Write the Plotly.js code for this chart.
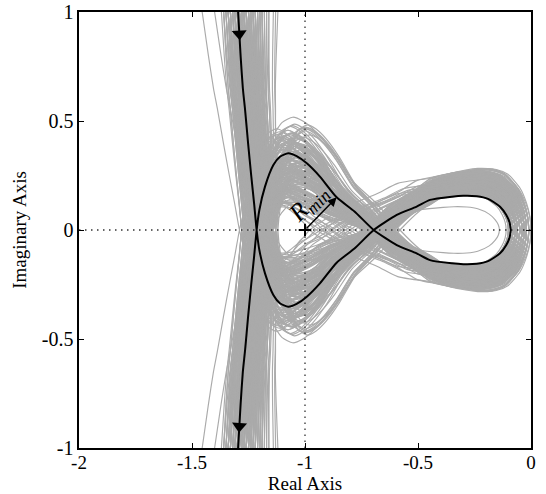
<!DOCTYPE html>
<html>
<head>
<meta charset="utf-8">
<script src="https://cdn.plot.ly/plotly-3.0.1.min.js"></script>
<style>
html,body{margin:0;padding:0;background:#fff;}
#chart{width:546px;height:494px;}
</style>
</head>
<body>
<div id="chart"></div>
<script>
// ---- Nominal Nyquist curve, upper half-path (top -> crossing -> left lobe -> node -> right lobe tip) ----
const nomVx = [-1.296, -1.285, -1.275, -1.265, -1.252, -1.238, -1.225, -1.214];
const nomVy = [ 1.000,  0.800,  0.650,  0.550,  0.400,  0.250,  0.120,  0.000];
const nomLx = [-1.214, -1.202, -1.177, -1.140, -1.111, -1.074, -1.037, -0.992, -0.934, -0.860, -0.781, -0.696];
const nomLy = [ 0.000, -0.092, -0.199, -0.298, -0.336, -0.352, -0.339, -0.306, -0.245, -0.150, -0.085,  0.000];
const nomRx = [-0.696, -0.594, -0.506, -0.447, -0.350, -0.300, -0.240, -0.190, -0.137, -0.110, -0.095, -0.090];
const nomRy = [ 0.000,  0.069,  0.107,  0.138,  0.153,  0.157,  0.155,  0.143,  0.107,  0.070,  0.035,  0.000];

// ---- Perturbed (Monte Carlo) curves: per-curve characteristic values ----
// real-axis crossing of the steep branch
const grayXc = [-1.21,-1.25,-1.17,-1.23,-1.14,-1.27,-1.19,-1.22,-1.16,-1.24,
                -1.20,-1.13,-1.26,-1.18,-1.22,-1.15,-1.28,-1.21,-1.17,-1.24,
                -1.19,-1.23,-1.12,-1.25,-1.18,-1.20,-1.16,-1.26,-1.22,-1.14,
                -1.21,-1.27,-1.19,-1.23,-1.17,-1.24,-1.15,-1.20,-1.25,-1.18,
                -1.22,-1.13,-1.26,-1.19,-1.21,-1.16,-1.24,-1.20,-1.28,-1.17,
                -1.23,-1.18,-1.25,-1.14,-1.21,-1.19,-1.27,-1.16,-1.22,-1.20,
                -1.24,-1.15,-1.18,-1.26,-1.21,-1.17,-1.23,-1.19,-1.13,-1.25,
                -1.20,-1.22,-1.16,-1.24,-1.18,-1.29,-1.21,-1.15,-1.23,-1.19,
                -1.18,-1.23,-1.15,-1.26,-1.20,-1.17,-1.24,-1.21,-1.14,-1.27,
                -1.19,-1.22,-1.16,-1.25,-1.20,-1.13,-1.23,-1.18,-1.26,-1.21,
                -1.15,-1.24,-1.19,-1.22,-1.17,-1.28,-1.20,-1.14,-1.25,-1.18,
                -1.21,-1.16,-1.23,-1.19,-1.27,-1.15,-1.22,-1.20,-1.24,-1.17,
                -1.20,-1.17,-1.23,-1.15,-1.21,-1.18,-1.25,-1.16,-1.22,-1.19,
                -1.14,-1.24,-1.20,-1.17,-1.26,-1.13,-1.21,-1.18,-1.23,-1.16,
                -1.19,-1.22,-1.15,-1.25,-1.20,-1.17,-1.24,-1.18,-1.21,-1.14,
                -1.23,-1.19,-1.16,-1.22,-1.20,-1.26,-1.17,-1.21,-1.15,-1.24];
// real part where the steep branch leaves the frame (|Im| = 1)
const grayXt = [-1.29,-1.31,-1.26,-1.28,-1.21,-1.35,-1.23,-1.31,-1.22,-1.31,
                -1.26,-1.17,-1.36,-1.25,-1.28,-1.20,-1.36,-1.30,-1.24,-1.32,
                -1.27,-1.29,-1.13,-1.34,-1.26,-1.27,-1.19,-1.33,-1.30,-1.16,
                -1.28,-1.33,-1.29,-1.30,-1.25,-1.33,-1.22,-1.25,-1.32,-1.27,
                -1.29,-1.14,-1.34,-1.24,-1.31,-1.23,-1.30,-1.28,-1.37,-1.21,
                -1.32,-1.24,-1.33,-1.18,-1.27,-1.26,-1.34,-1.24,-1.27,-1.29,
                -1.29,-1.17,-1.28,-1.32,-1.26,-1.27,-1.31,-1.22,-1.12,-1.35,
                -1.30,-1.26,-1.20,-1.34,-1.23,-1.455,-1.24,-1.19,-1.40,-1.28,
                -1.26,-1.30,-1.21,-1.35,-1.25,-1.26,-1.33,-1.27,-1.20,-1.33,
                -1.28,-1.27,-1.25,-1.30,-1.29,-1.19,-1.29,-1.22,-1.34,-1.29,
                -1.24,-1.28,-1.26,-1.32,-1.23,-1.36,-1.26,-1.23,-1.31,-1.25,
                -1.30,-1.21,-1.27,-1.29,-1.35,-1.19,-1.31,-1.24,-1.34,-1.22,
                -1.27,-1.25,-1.31,-1.20,-1.29,-1.24,-1.33,-1.22,-1.28,-1.27,
                -1.19,-1.31,-1.28,-1.23,-1.34,-1.16,-1.27,-1.26,-1.30,-1.23,
                -1.25,-1.30,-1.22,-1.31,-1.28,-1.22,-1.32,-1.25,-1.26,-1.18,
                -1.30,-1.28,-1.21,-1.27,-1.29,-1.33,-1.23,-1.30,-1.20,-1.31];
// left-lobe size relative to nominal
const graySL = [0.42,1.21,0.78,1.05,0.63,1.32,0.91,0.55,1.12,0.74,
                1.27,0.86,0.48,1.01,1.18,0.67,0.95,1.35,0.59,0.82,
                1.09,0.71,1.24,0.51,0.98,1.15,0.88,0.65,1.30,0.77,
                1.03,0.45,1.20,0.93,0.69,1.11,0.84,1.26,0.57,1.07,
                0.80,1.33,0.61,0.97,1.17,0.73,1.02,0.38,1.23,0.89,
                0.66,1.13,0.79,1.29,0.53,0.99,1.19,0.75,0.92,1.36,
                0.60,1.06,0.83,1.25,0.70,0.96,1.14,0.50,1.31,0.87,
                0.64,1.08,0.76,1.22,0.94,0.58,1.16,0.81,1.47,1.38,
                0.44,1.10,0.86,1.28,0.36,0.97,1.19,0.33,1.34,0.54,
                0.90,1.24,0.68,1.05,0.80,1.37,0.47,1.14,0.93,0.76,
                1.21,0.30,1.00,1.30,0.42,0.88,1.16,0.40,1.08,0.83,
                1.26,0.70,0.95,1.12,0.52,1.33,0.78,1.03,0.35,1.18,
                0.46,0.62,0.39,0.71,0.55,0.84,0.49,0.66,0.58,0.77,
                0.43,0.69,0.52,0.88,0.61,0.37,0.74,0.57,0.81,0.48,
                0.65,0.41,0.72,0.54,0.86,0.60,0.45,0.79,0.50,0.68,
                0.38,0.63,0.56,0.75,0.47,0.83,0.59,0.70,0.44,0.90];
// real-axis self-crossing (node) of the figure eight
const grayXn = [-0.68,-0.72,-0.64,-0.70,-0.62,-0.74,-0.66,-0.69,-0.63,-0.71,
                -0.67,-0.61,-0.73,-0.65,-0.70,-0.63,-0.75,-0.68,-0.64,-0.71,
                -0.66,-0.70,-0.60,-0.72,-0.65,-0.67,-0.63,-0.73,-0.69,-0.62,
                -0.68,-0.74,-0.66,-0.70,-0.64,-0.71,-0.62,-0.67,-0.72,-0.65,
                -0.69,-0.61,-0.73,-0.66,-0.68,-0.63,-0.71,-0.67,-0.75,-0.64,
                -0.70,-0.65,-0.72,-0.62,-0.68,-0.66,-0.74,-0.63,-0.69,-0.67,
                -0.71,-0.62,-0.65,-0.73,-0.68,-0.64,-0.70,-0.66,-0.61,-0.72,
                -0.67,-0.69,-0.63,-0.71,-0.65,-0.74,-0.68,-0.62,-0.58,-0.66,
                -0.67,-0.70,-0.64,-0.72,-0.68,-0.63,-0.71,-0.66,-0.62,-0.73,
                -0.69,-0.65,-0.64,-0.71,-0.67,-0.61,-0.70,-0.66,-0.74,-0.68,
                -0.63,-0.72,-0.65,-0.69,-0.64,-0.75,-0.67,-0.62,-0.71,-0.66,
                -0.68,-0.63,-0.70,-0.65,-0.73,-0.62,-0.69,-0.67,-0.71,-0.64,
                -0.95,-0.64,-0.86,-0.62,-0.68,-0.65,-0.80,-0.63,-0.69,-0.66,
                -0.92,-0.71,-0.67,-0.64,-0.73,-0.98,-0.68,-0.65,-0.70,-0.84,
                -0.66,-0.89,-0.62,-0.72,-0.67,-0.64,-0.78,-0.65,-0.68,-0.61,
                -0.93,-0.66,-0.63,-0.69,-0.82,-0.73,-0.64,-0.68,-0.88,-0.71];
// right-lobe height relative to nominal
const graySR = [1.35,1.62,1.12,1.48,1.05,1.74,1.28,1.55,1.18,1.42,
                1.66,1.09,1.51,1.22,1.38,1.78,1.15,1.45,1.31,1.59,
                1.02,1.69,1.25,1.40,1.56,1.11,1.47,1.72,1.20,1.34,
                1.63,1.07,1.52,1.29,1.44,1.76,1.16,1.39,1.58,1.24,
                1.68,1.13,1.49,1.32,1.60,1.04,1.43,1.71,1.26,1.54,
                1.19,1.65,1.37,1.10,1.50,1.80,1.23,1.46,1.30,1.57,
                1.08,1.67,1.36,1.21,1.53,1.75,1.14,1.41,1.61,0.68,
                1.27,1.70,1.17,1.45,1.33,1.64,1.06,1.50,1.25,1.58,
                1.44,1.70,1.22,1.56,1.11,1.77,1.33,1.49,1.26,1.63,
                1.16,1.52,1.39,1.68,1.07,1.58,1.29,1.46,1.73,1.19,
                1.61,1.36,1.54,1.13,1.66,1.41,1.24,1.79,1.31,1.50,
                1.09,1.59,1.35,1.71,1.21,1.47,1.64,1.28,1.55,1.42,
                1.20,1.46,1.08,1.33,1.57,1.15,1.40,1.26,1.52,1.03,
                1.37,1.61,1.18,1.44,1.29,1.55,1.12,1.49,1.23,1.65,
                1.06,1.31,1.42,1.17,1.58,1.27,1.48,1.01,1.35,1.53,
                1.14,1.39,1.60,1.21,1.45,1.10,1.34,1.51,1.25,1.43];
// rightmost real-axis crossing (tip of the right lobe)
const grayTip = [-0.06,-0.02,-0.08,-0.05,-0.10,-0.01,-0.07,-0.03,-0.09,-0.04,
                 -0.03,-0.08,-0.04,-0.06,-0.06,-0.01,-0.09,-0.04,-0.07,-0.02,
                 -0.11,-0.02,-0.07,-0.05,-0.04,-0.08,-0.05,-0.01,-0.08,-0.06,
                 -0.03,-0.09,-0.04,-0.06,-0.05, 0.00,-0.08,-0.05,-0.03,-0.07,
                 -0.02,-0.09,-0.04,-0.06,-0.03,-0.10,-0.05,-0.02,-0.07,-0.04,
                 -0.08,-0.02,-0.06,-0.09,-0.04,-0.01,-0.07,-0.05,-0.06,-0.03,
                 -0.09,-0.02,-0.06,-0.07,-0.04,-0.01,-0.08,-0.05,-0.03,-0.14,
                 -0.07,-0.02,-0.08,-0.05,-0.06,-0.02,-0.10,-0.04,-0.07,-0.03,
                 -0.05,-0.02,-0.07,-0.03,-0.09,-0.01,-0.06,-0.04,-0.07,-0.03,
                 -0.08,-0.04,-0.05,-0.02,-0.09,-0.03,-0.06,-0.05,-0.01,-0.08,
                 -0.03,-0.06,-0.04,-0.08,-0.02,-0.05,-0.07, 0.00,-0.06,-0.04,
                 -0.09,-0.03,-0.06,-0.01,-0.07,-0.04,-0.02,-0.07,-0.03,-0.05,
                 -0.08,-0.05,-0.09,-0.06,-0.03,-0.08,-0.05,-0.07,-0.04,-0.10,
                 -0.06,-0.03,-0.08,-0.05,-0.06,-0.03,-0.09,-0.04,-0.07,-0.02,
                 -0.09,-0.06,-0.05,-0.08,-0.03,-0.07,-0.04,-0.10,-0.06,-0.04,
                 -0.08,-0.05,-0.03,-0.07,-0.05,-0.09,-0.06,-0.04,-0.07,-0.05];

// ---- Reference point and ticks ----
const criticalX = -1, criticalY = 0;
const xTickVals = [-2, -1.5, -1, -0.5, 0];
const xTickText = ['-2', '-1.5', '-1', '-0.5', '0'];
const yTickVals = [-1, -0.5, 0, 0.5, 1];
const yTickText = ['-1', '-0.5', '0', '0.5', '1'];
const xRange = [-2, 0], yRange = [-1, 1];

// ---- geometry of the plot (for screen-space angles) ----
const W = 546, H = 494, M = {l:79, r:15, t:12, b:46};
const pxX = (W - M.l - M.r) / (xRange[1] - xRange[0]);
const pxY = (H - M.t - M.b) / (yRange[1] - yRange[0]);

function nominalHalf() {
  const X = nomVx.slice(), Y = nomVy.slice();
  for (let k = 1; k < nomLx.length; k++) { X.push(nomLx[k]); Y.push(nomLy[k]); }
  for (let k = 1; k < nomRx.length; k++) { X.push(nomRx[k]); Y.push(nomRy[k]); }
  return {X, Y};
}
function grayHalf(i) {
  const xc0 = nomVx[nomVx.length - 1], xt0 = nomVx[0], yt0 = nomVy[0];
  const xn0 = nomLx[nomLx.length - 1], tx0 = nomRx[nomRx.length - 1];
  const dc = grayXc[i] - xc0, dt = grayXt[i] - xt0;
  const X = [], Y = [];
  for (let k = 0; k < nomVx.length; k++) {
    const t = nomVy[k] / yt0;
    X.push(nomVx[k] + dc + (dt - dc) * t); Y.push(nomVy[k]);
  }
  const sx = (grayXn[i] - grayXc[i]) / (xn0 - xc0);
  for (let k = 1; k < nomLx.length; k++) {
    X.push(grayXc[i] + (nomLx[k] - xc0) * sx); Y.push(nomLy[k] * graySL[i]);
  }
  const rx = (grayTip[i] - grayXn[i]) / (tx0 - xn0);
  for (let k = 1; k < nomRx.length; k++) {
    X.push(grayXn[i] + (nomRx[k] - xn0) * rx); Y.push(nomRy[k] * graySR[i]);
  }
  return {X, Y};
}
// negative frequencies: complex conjugate, traversed in reverse
function fullCurve(h) {
  const X = h.X.slice(), Y = h.Y.slice();
  for (let k = h.X.length - 2; k >= 0; k--) { X.push(h.X[k]); Y.push(-h.Y[k]); }
  return {X, Y};
}

const gx = [], gy = [];
for (let i = 0; i < grayXc.length; i++) {
  const c = fullCurve(grayHalf(i));
  for (let k = 0; k < c.X.length; k++) { gx.push(c.X[k]); gy.push(c.Y[k]); }
  gx.push(null); gy.push(null);
}
const nom = fullCurve(nominalHalf());

// direction arrows on the nominal curve (middle of the first / last segment)
const n = nom.X.length;
const arrTop = {x: (nom.X[0] + nom.X[1]) / 2, y: (nom.Y[0] + nom.Y[1]) / 2,
  ang: -Math.atan2((nom.X[1] - nom.X[0]) * pxX, -(nom.Y[1] - nom.Y[0]) * pxY) * 180 / Math.PI};
const arrBot = {x: (nom.X[n-2] + nom.X[n-1]) / 2, y: (nom.Y[n-2] + nom.Y[n-1]) / 2,
  ang: -Math.atan2((nom.X[n-1] - nom.X[n-2]) * pxX, -(nom.Y[n-1] - nom.Y[n-2]) * pxY) * 180 / Math.PI};

// R_min : closest point of the nominal curve to the critical point (upper half)
let best = {d: 1e9, x: 0, y: 0};
for (let k = 0; k < n - 1; k++) {
  const x0 = nom.X[k], y0 = nom.Y[k], x1 = nom.X[k+1], y1 = nom.Y[k+1];
  const vx = x1 - x0, vy = y1 - y0;
  let t = ((criticalX - x0) * vx + (criticalY - y0) * vy) / (vx*vx + vy*vy);
  t = Math.max(0, Math.min(1, t));
  const px = x0 + t * vx, py = y0 + t * vy;
  const d = Math.hypot(px - criticalX, py - criticalY);
  if (py >= 0 && d < best.d - 1e-9) best = {d, x: px, y: py};
}
const sdx = (best.x - criticalX) * pxX, sdy = -(best.y - criticalY) * pxY;
const rAng = Math.atan2(sdy, sdx) * 180 / Math.PI;
const sl = Math.hypot(sdx, sdy);
const perp = {x: sdy / sl, y: -sdx / sl}; // screen perpendicular toward upper-left
const along = {x: sdx / sl, y: sdy / sl};
const labelOffset = 16, labelAlong = -1;

const traces = [
  {x: gx, y: gy, type: 'scatter', mode: 'lines', line: {color: '#aaaaaa', width: 1.15, shape: 'spline', smoothing: 0.6}, hoverinfo: 'skip', connectgaps: false},
  {x: [criticalX, criticalX], y: yRange, type: 'scatter', mode: 'lines', line: {color: '#333', width: 1.3, dash: '1.5px,4.5px'}, hoverinfo: 'skip'},
  {x: xRange, y: [criticalY, criticalY], type: 'scatter', mode: 'lines', line: {color: '#333', width: 1.3, dash: '1.5px,4.5px'}, hoverinfo: 'skip'},
  {x: nom.X, y: nom.Y, type: 'scatter', mode: 'lines', line: {color: '#000', width: 2, shape: 'spline', smoothing: 0.6}, hoverinfo: 'skip'},
  {x: [arrTop.x, arrBot.x], y: [arrTop.y, arrBot.y], type: 'scatter', mode: 'markers',
   marker: {symbol: 'triangle-down', size: 13, color: '#000', angle: [arrTop.ang, arrBot.ang], line: {width: 0}}, hoverinfo: 'skip'},
  {x: [criticalX], y: [criticalY], type: 'scatter', mode: 'markers',
   marker: {symbol: 'cross-thin', size: 9, line: {color: '#000', width: 2}}, hoverinfo: 'skip'}
];

const font = 'Liberation Serif, Times New Roman, serif';
const layout = {
  width: W, height: H, margin: M, showlegend: false,
  paper_bgcolor: '#fff', plot_bgcolor: '#fff',
  font: {family: font, size: 20, color: '#000'},
  xaxis: {range: xRange, tickvals: xTickVals, ticktext: xTickText, ticks: 'inside', ticklen: 5, tickwidth: 1, tickcolor: '#000',
    showline: true, linewidth: 1.6, linecolor: '#000', mirror: 'ticks', showgrid: false, zeroline: false,
    tickfont: {family: font, size: 19, color: '#000'}, ticklabelstandoff: -3,
    title: {text: 'Real Axis', font: {family: font, size: 19, color: '#000'}, standoff: 4}},
  yaxis: {range: yRange, tickvals: yTickVals, ticktext: yTickText, ticks: 'inside', ticklen: 5, tickwidth: 1, tickcolor: '#000',
    showline: true, linewidth: 1.6, linecolor: '#000', mirror: 'ticks', showgrid: false, zeroline: false,
    tickfont: {family: font, size: 20, color: '#000'},
    title: {text: 'Imaginary Axis', font: {family: font, size: 19, color: '#000'}, standoff: 10}},
  annotations: [
    {x: best.x, y: best.y, ax: criticalX, ay: criticalY, xref: 'x', yref: 'y', axref: 'x', ayref: 'y',
     text: '', showarrow: true, arrowhead: 2, arrowsize: 1.2, arrowwidth: 1.5, arrowcolor: '#000', standoff: 0, startstandoff: 0},
    {x: (best.x + criticalX) / 2, y: (best.y + criticalY) / 2, xref: 'x', yref: 'y', showarrow: false,
     text: '<i>R</i><sub><i>min</i></sub>', textangle: rAng, font: {family: font, size: 25, color: '#000'},
     xshift: perp.x * labelOffset + along.x * labelAlong, yshift: -(perp.y * labelOffset + along.y * labelAlong)}
  ]
};

Plotly.newPlot('chart', traces, layout, {displayModeBar: false, staticPlot: true});
</script>
</body>
</html>
